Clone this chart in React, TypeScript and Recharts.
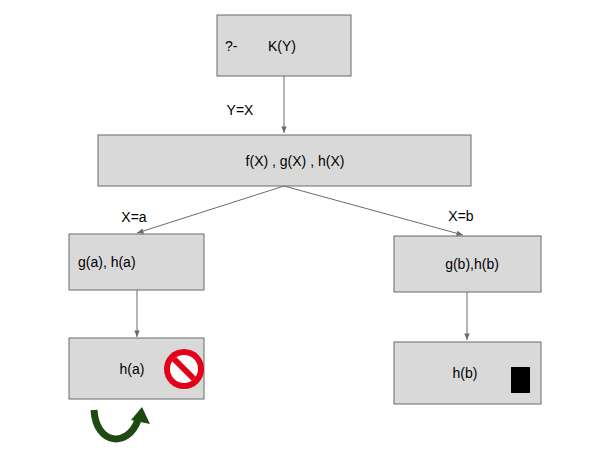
import { ScatterChart, Scatter, XAxis, YAxis } from "recharts";

// diagram nodes: centre, size and label
const nodeX = [284, 284.5, 136.5, 467.5, 136.5, 467.5];
const nodeY = [45.5, 160.5, 262, 264, 368.5, 373];
const nodeW = [134, 373, 135, 147, 135, 147];
const nodeH = [61, 51, 56, 56, 61, 62];
const nodeLabels = ["K(Y)", "f(X)   ,   g(X) ,  h(X)", "g(a), h(a)", "g(b),h(b)", "h(a)", "h(b)"];
const labelX = [282, 295, 78, 472, 132, 465];
const labelAnchor = ["middle", "middle", "start", "middle", "middle", "middle"];

// edges: from -> to
const edgeFromX = [284, 284, 284, 137, 467];
const edgeFromY = [76, 186, 186, 290, 292];
const edgeToX = [284, 137, 463, 137, 467];
const edgeToY = [133, 233, 235, 337, 340];
const edgeLabels = ["Y=X", "X=a", "X=b", "", ""];
const edgeLabelX = [240, 134, 461, 0, 0];
const edgeLabelY = [110, 217, 216, 0, 0];

const nodes = nodeX.map((x, i) => ({
  x, y: nodeY[i], w: nodeW[i], h: nodeH[i], label: nodeLabels[i], lx: labelX[i], anchor: labelAnchor[i], i,
}));
const edges = edgeFromX.map((x, i) => ({
  x, y: edgeFromY[i], tx: edgeToX[i], ty: edgeToY[i], label: edgeLabels[i], lx: edgeLabelX[i], ly: edgeLabelY[i],
}));

const font = "'Liberation Sans', Arial, sans-serif";

function NodeShape(props: any) {
  const { cx, cy, payload } = props;
  const dx = payload.lx - payload.x;
  return (
    <g>
      <rect x={cx - payload.w / 2} y={cy - payload.h / 2} width={payload.w} height={payload.h}
        fill="#d9d9d9" stroke="#6b6b6b" strokeWidth={1} />
      {payload.i === 0 && (
        <text x={cx - 59} y={cy + 5} fontSize={14} fontFamily={font} fill="#000">?-</text>
      )}
      <text x={cx + dx} y={cy + 5} fontSize={14} fontFamily={font} fill="#000" textAnchor={payload.anchor}>
        {payload.label}
      </text>
      {payload.i === 4 && (
        <g>
          <circle cx={cx + 47.5} cy={cy + 0.5} r={20} fill="#e3001b" />
          <circle cx={cx + 47.5} cy={cy + 0.5} r={14} fill="#fff" />
          <line x1={cx + 37.5} y1={cy - 9.5} x2={cx + 57.5} y2={cy + 10.5} stroke="#e3001b" strokeWidth={6} />
        </g>
      )}
      {payload.i === 5 && <rect x={cx + 43.5} y={cy - 6} width={19} height={26} fill="#000" />}
    </g>
  );
}

function EdgeShape(props: any) {
  const { cx, cy, payload } = props;
  const ex = cx + (payload.tx - payload.x);
  const ey = cy + (payload.ty - payload.y);
  const a = Math.atan2(ey - cy, ex - cx);
  const s = 7;
  const p1 = `${ex - s * Math.cos(a - 0.4)},${ey - s * Math.sin(a - 0.4)}`;
  const p2 = `${ex - s * Math.cos(a + 0.4)},${ey - s * Math.sin(a + 0.4)}`;
  return (
    <g>
      <line x1={cx} y1={cy} x2={ex} y2={ey} stroke="#6b6b6b" strokeWidth={1} />
      <polygon points={`${ex},${ey} ${p1} ${p2}`} fill="#6b6b6b" />
      {payload.label && (
        <text x={cx + payload.lx - payload.x} y={cy + payload.ly - payload.y + 5} fontSize={14}
          fontFamily={font} fill="#000" textAnchor="middle">{payload.label}</text>
      )}
    </g>
  );
}

function LoopArrow() {
  return (
    <g>
      <path d="M 94 410 C 96 445, 128 448, 138 420" fill="none" stroke="#1e4a12" strokeWidth={7} />
      <polygon points="142,407 150,424 131,420" fill="#1e4a12" />
    </g>
  );
}

export default function App() {
  return (
    <div style={{ position: "absolute", left: 0, top: 0, background: "#fff" }}>
      <ScatterChart width={609} height={453} margin={{ top: 0, right: 0, bottom: 0, left: 0 }}>
        <XAxis type="number" dataKey="x" domain={[0, 609]} hide />
        <YAxis type="number" dataKey="y" domain={[0, 453]} reversed hide />
        <Scatter data={edges} shape={EdgeShape} isAnimationActive={false} />
        <Scatter data={nodes} shape={NodeShape} isAnimationActive={false} />
        <LoopArrow />
      </ScatterChart>
    </div>
  );
}
